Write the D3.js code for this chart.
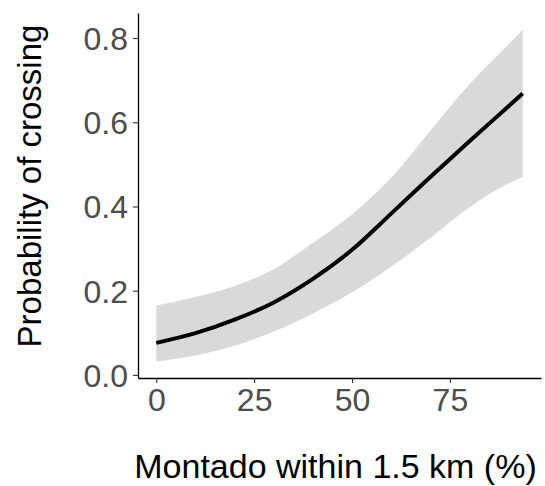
<!DOCTYPE html>
<html>
<head>
<meta charset="utf-8">
<script src="https://cdn.jsdelivr.net/npm/d3@7"></script>
<style>
  html, body { margin: 0; padding: 0; background: #fff; }
  svg { display: block; font-family: "Liberation Sans", Arial, sans-serif; }
</style>
</head>
<body>
<svg id="chart" width="545" height="486"></svg>
<script>
// montado cover (%) and fitted probability with 95% band
const montado = [0, 10, 20, 30, 40, 50, 60, 70, 80, 90, 93.6];
const fit     = [0.076, 0.099, 0.131, 0.172, 0.228, 0.297, 0.383, 0.470, 0.555, 0.638, 0.668];
const lower   = [0.032, 0.046, 0.069, 0.103, 0.146, 0.196, 0.257, 0.325, 0.398, 0.455, 0.470];
const upper   = [0.165, 0.185, 0.211, 0.251, 0.314, 0.381, 0.468, 0.580, 0.690, 0.785, 0.820];

const xTicks = [0, 25, 50, 75];
const yTicks = [0.0, 0.2, 0.4, 0.6, 0.8];

const xTitle = 'Montado within 1.5 km (%)';
const yTitle = 'Probability of crossing';

const width = 545, height = 486;
const margin = { top: 13, right: 4, bottom: 108, left: 138 };

const svg = d3.select('#chart');

const data = montado.map((m, i) => ({ x: m, y: fit[i], lo: lower[i], hi: upper[i] }));

// ggplot-like 5% expansion
const xExt = d3.extent(montado);
const xPad = (xExt[1] - xExt[0]) * 0.05;
const yExt = [d3.min(lower), d3.max(upper)];
const yPad = (yExt[1] - yExt[0]) * 0.05;

const x = d3.scaleLinear()
    .domain([xExt[0] - xPad, xExt[1] + xPad])
    .range([margin.left, width - margin.right]);

const y = d3.scaleLinear()
    .domain([yExt[0] - yPad, yExt[1] + yPad])
    .range([height - margin.bottom, margin.top]);

// ribbon
const band = d3.area()
    .x(d => x(d.x))
    .y0(d => y(d.lo))
    .y1(d => y(d.hi))
    .curve(d3.curveMonotoneX);

svg.append('path')
    .attr('d', band(data))
    .attr('fill', '#d9d9d9');

// fitted line
const line = d3.line()
    .x(d => x(d.x))
    .y(d => y(d.y))
    .curve(d3.curveMonotoneX);

svg.append('path')
    .attr('d', line(data))
    .attr('fill', 'none')
    .attr('stroke', '#000')
    .attr('stroke-width', 4)
    .attr('stroke-linecap', 'butt');

// axes
const xAxis = d3.axisBottom(x)
    .tickValues(xTicks)
    .tickSize(5)
    .tickPadding(5)
    .tickSizeOuter(0)
    .tickFormat(d3.format('d'));

const gx = svg.append('g')
    .attr('transform', `translate(0, ${height - margin.bottom})`)
    .call(xAxis);

const yAxis = d3.axisLeft(y)
    .tickValues(yTicks)
    .tickSize(5)
    .tickPadding(5)
    .tickSizeOuter(0)
    .tickFormat(d3.format('.1f'));

const gy = svg.append('g')
    .attr('transform', `translate(${margin.left}, 0)`)
    .call(yAxis);

[gx, gy].forEach(g => {
    g.select('.domain').attr('stroke', '#000').attr('stroke-width', 1.3);
    g.selectAll('.tick line').attr('stroke', '#333').attr('stroke-width', 1.1);
    g.selectAll('.tick text')
        .attr('fill', '#4d4d4d')
        .style('font-size', '32px')
        .style('font-family', '"Liberation Sans", Arial, sans-serif');
});

gx.selectAll('.tick text').attr('dy', '0.71em');
gy.selectAll('.tick text').attr('dy', '0.36em');

// axis titles
svg.append('text')
    .attr('x', (margin.left + width - margin.right) / 2 - 4)
    .attr('y', 478)
    .attr('text-anchor', 'middle')
    .attr('fill', '#000')
    .style('font-size', '34px')
    .text(xTitle);

svg.append('text')
    .attr('transform', `translate(41, 186) rotate(-90)`)
    .attr('text-anchor', 'middle')
    .attr('fill', '#000')
    .style('font-size', '33px')
    .text(yTitle);
</script>
</body>
</html>
